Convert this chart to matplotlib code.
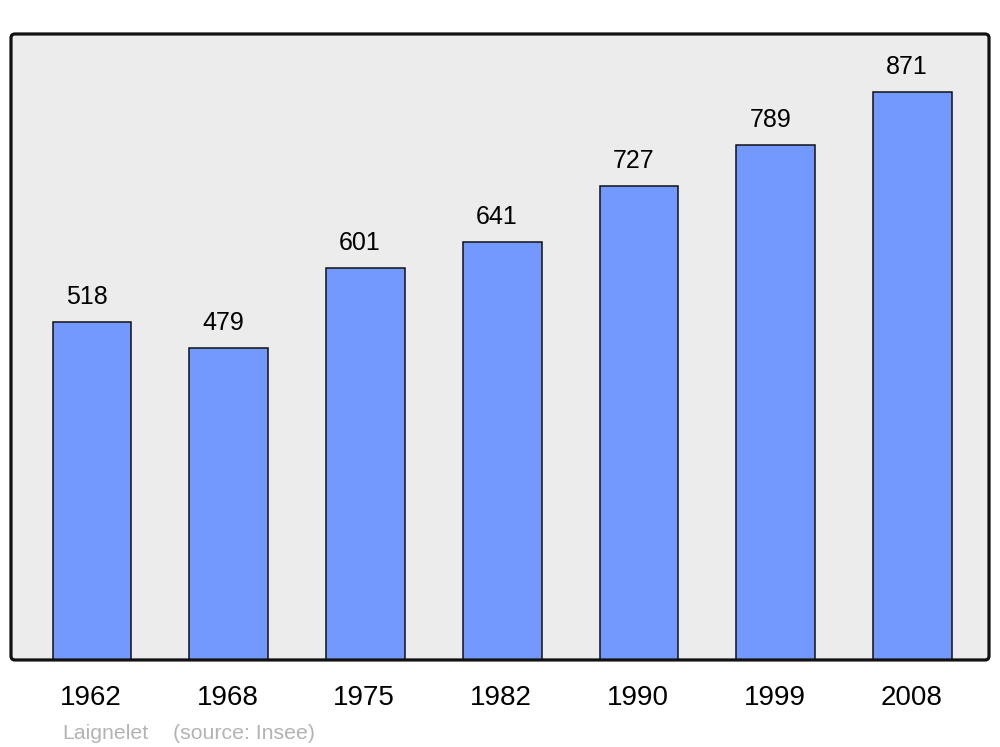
import matplotlib

matplotlib.use("Agg")
import matplotlib.pyplot as plt
from matplotlib.patches import FancyBboxPatch

plt.rcParams["font.family"] = ["Liberation Sans", "DejaVu Sans"]

years = ["1962", "1968", "1975", "1982", "1990", "1999", "2008"]
population = [518, 479, 601, 641, 727, 789, 871]

BAR_COLOR = "#7399ff"
BG_COLOR = "#ececec"

fig = plt.figure(figsize=(10, 7.47), dpi=100)
ax = fig.add_axes([0.011, 0.1165, 0.978, 0.838])
ax.set_facecolor(BG_COLOR)

x = range(len(years))
bars = ax.bar(x, population, width=0.575, color=BAR_COLOR,
              edgecolor="#111111", linewidth=1.1, zorder=2)

for rect, val in zip(bars, population):
    ax.annotate(str(val), (rect.get_x() + rect.get_width() / 2, rect.get_height()),
                xytext=(-4, 13), textcoords="offset points",
                ha="center", va="baseline", fontsize=18, color="black")

ax.set_xlim(-0.592, 6.559)
ax.set_ylim(0, 960)
ax.set_xticks([i - 0.01 for i in x])
ax.set_xticklabels(years, fontsize=20)
ax.tick_params(axis="x", length=0, pad=18)
ax.set_yticks([])
for spine in ax.spines.values():
    spine.set_visible(False)

# rounded outer frame
frame = FancyBboxPatch((0.011, 0.1165), 0.978, 0.838,
                       boxstyle="round,pad=0,rounding_size=0.004",
                       mutation_aspect=1000 / 747,
                       transform=fig.transFigure, fill=False,
                       edgecolor="#111111", linewidth=2.3, zorder=5)
fig.patches.append(frame)

fig.text(0.062, 0.011, "Laignelet", fontsize=15.3, color="#b3b3b3")
fig.text(0.173, 0.011, "(source: Insee)", fontsize=15.3, color="#b3b3b3")

fig.savefig("out.png", dpi=100)
